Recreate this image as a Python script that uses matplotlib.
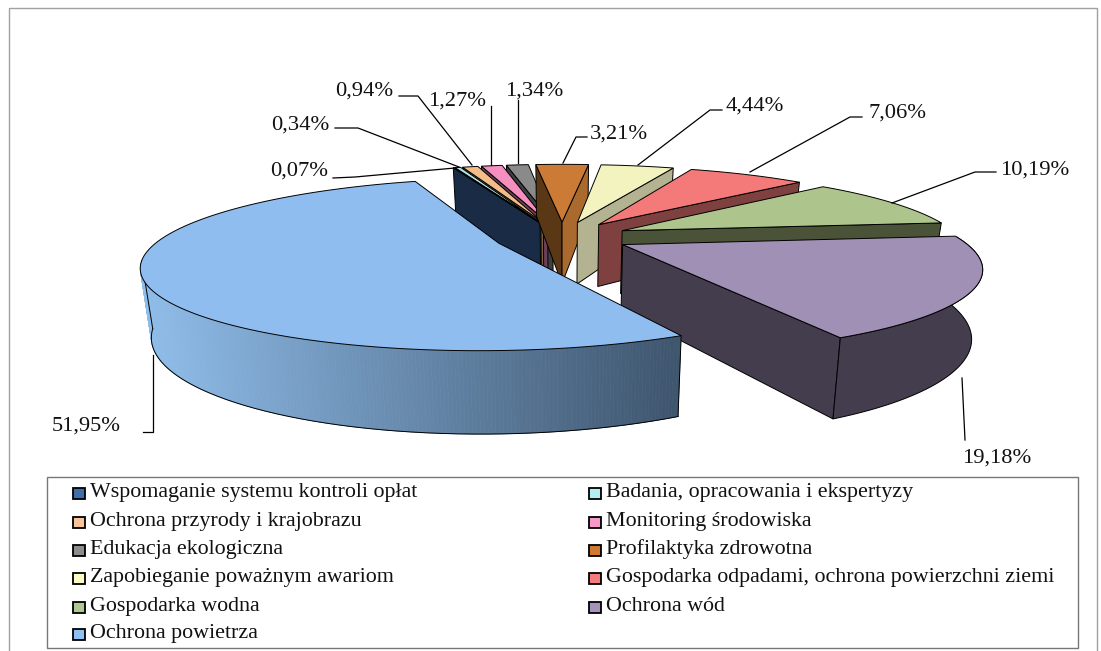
"""
exploded 3d pie of environment spending shares, drawn with a small perspective projection
"""

import numpy as np
import matplotlib
matplotlib.use("Agg")
import matplotlib.pyplot as plt
from matplotlib.patches import Polygon, Rectangle
from matplotlib.colors import to_rgb

categories = [
    "Wspomaganie systemu kontroli opłat",
    "Badania, opracowania i ekspertyzy",
    "Ochrona przyrody i krajobrazu",
    "Monitoring środowiska",
    "Edukacja ekologiczna",
    "Profilaktyka zdrowotna",
    "Zapobieganie poważnym awariom",
    "Gospodarka odpadami, ochrona powierzchni ziemi",
    "Gospodarka wodna",
    "Ochrona wód",
    "Ochrona powietrza",
]
values = [0.07, 0.34, 0.94, 1.27, 1.34, 3.21, 4.44, 7.06, 10.19, 19.18, 51.95]

legend_colors = ["#3f6fa8", "#b4eef0", "#f8c49a", "#f59ac8", "#8c8c8c", "#d07a30",
                 "#fbfbc8", "#f47c7c", "#b0c890", "#a593bb", "#90c0f2"]
top_colors = ["#3f6fa8", "#aee6e8", "#f3bd8a", "#f48fc0", "#8a8a8a", "#cc7b36",
              "#f3f3c0", "#f47a7a", "#adc48c", "#a090b5", "#8fbdf0"]
left_colors = ["#1a2c45", "#5a8082", "#7d6040", "#6e3f58", "#3f3f3f", "#5a3816",
               "#b3b391", "#7f4040", "#4a5238", "#433d4d", "#8fbdea"]
right_colors = ["#1a2c45", "#5a8082", "#7d6040", "#6e3f58", "#3f3f3f", "#ab6a2d",
                "#b3b391", "#7f4040", "#4a5238", "#433d4d", "#3f566f"]

# label text position (left x, centre y) and its leader line, in pixels
label_pos = [(270, 171), (271, 125), (335, 91), (428, 101), (505, 91), (590, 134),
             (725, 106), (868, 113), (1000, 170), (962, 458), (52, 426)]
leaders = [
    [(333, 178), (355, 177), (455, 168)],
    [(335, 128), (358, 128), (459, 167)],
    [(399, 96), (418, 96), (472, 165)],
    [(491, 106), (491, 165)],
    [(518, 100), (518, 163)],
    [(587, 137), (576, 137), (563, 163)],
    [(722, 110), (710, 110), (638, 165)],
    [(862, 117), (850, 117), (750, 172)],
    [(996, 172), (975, 172), (892, 203)],
    [(962, 378), (965, 440)],
    [(143, 432), (153, 432), (153, 355)],
]

# far slices first, small left ones back to front, the big slice last
draw_order = [4, 3, 2, 1, 0, 5, 6, 7, 8, 9, 10]

# projection parameters fitted on the picture
CX, CY = 562, 237
AX, AY = 337, 78
PERSP = 0.24
EXPLODE = 0.2
DEPTH = 64
DEPTH_W = 0.027
START = -20.0


def project(x, y, z=0.0):
    w = (1 + PERSP * y) * (1 + DEPTH_W * z)
    return CX + AX * x / w, CY - AY * y / w + DEPTH * z / (1 + PERSP * y)


fig = plt.figure(figsize=(11.01, 6.51), dpi=100)
ax = fig.add_axes([0, 0, 1, 1])
ax.set_xlim(0, 1101)
ax.set_ylim(651, 0)
ax.axis("off")
plt.rcParams["font.family"] = ["Liberation Serif", "DejaVu Serif"]

# frame
ax.plot([9, 9, 1097, 1097], [651, 8, 8, 651], color="#a0a0a0", lw=1.0)

shares = np.array(values) / np.sum(values) * 360
edges = START + np.concatenate([[0], np.cumsum(shares)])
blue_dark = np.array(to_rgb("#3f566f"))
blue_light = np.array(to_rgb("#8fbdea"))
last = len(values) - 1

for i in draw_order:
    a0, a1 = edges[i], edges[i + 1]
    mid = np.radians((a0 + a1) / 2)
    ox, oy = EXPLODE * np.sin(mid), EXPLODE * np.cos(mid)
    th = np.radians(np.linspace(a0, a1, max(4, int(a1 - a0) * 2)))
    xs = ox + np.sin(th)
    ys = oy + np.cos(th)
    ec = dict(edgecolor="black", linewidth=0.7)

    # radial side faces, only the ones turned to the viewer
    if i != last:
        if np.sin(np.radians(a0)) < 0.05:
            ex, ey = ox + np.sin(th[0]), oy + np.cos(th[0])
            face = [project(ox, oy), project(ex, ey), project(ex, ey, 1), project(ox, oy, 1)]
            ax.add_patch(Polygon(face, facecolor=left_colors[i], **ec))
        if np.sin(np.radians(a1)) > -0.05:
            ex, ey = ox + np.sin(th[-1]), oy + np.cos(th[-1])
            face = [project(ox, oy), project(ex, ey), project(ex, ey, 1), project(ox, oy, 1)]
            ax.add_patch(Polygon(face, facecolor=right_colors[i], **ec))

    # outer rim, near part only
    near = np.cos(th) < (-0.2 if i == last else 0.1)
    if near.sum() > 1:
        nx, ny = xs[near], ys[near]
        if i == last:
            # cut in strips so the large slice can carry its gradient
            for k in range(len(nx) - 1):
                px0, _ = project(nx[k], ny[k])
                t = np.clip((px0 - 140) / (675 - 140), 0, 1)
                col = blue_light * (1 - t) + blue_dark * t
                strip = [project(nx[k], ny[k]), project(nx[k + 1], ny[k + 1]),
                         project(nx[k + 1], ny[k + 1], 1), project(nx[k], ny[k], 1)]
                ax.add_patch(Polygon(strip, facecolor=col, edgecolor=col, linewidth=0.5))
            low = [project(x, y, 1) for x, y in zip(nx, ny)]
            ax.plot(*zip(*low), color="black", lw=0.7, zorder=1)
            ax.plot(*zip(project(nx[0], ny[0]), project(nx[0], ny[0], 1)), color="black", lw=0.7, zorder=1)
            ax.plot(*zip(project(nx[-1], ny[-1]), project(nx[-1], ny[-1], 1)), color="black", lw=0.7, zorder=1)
        else:
            rim = [project(x, y) for x, y in zip(nx, ny)] + \
                  [project(x, y, 1) for x, y in zip(nx[::-1], ny[::-1])]
            ax.add_patch(Polygon(rim, facecolor=right_colors[i], **ec))

    # top face
    top = [project(ox, oy)] + [project(x, y) for x, y in zip(xs, ys)]
    ax.add_patch(Polygon(top, facecolor=top_colors[i], **ec))

# data labels and leaders
for val, pos, line in zip(values, label_pos, leaders):
    ax.plot(*zip(*line), color="black", lw=0.9, zorder=5)
    txt = f"{val:.2f}".replace(".", ",") + "%"
    ax.text(pos[0], pos[1], txt, fontsize=16.2, va="center", ha="left", color="#111111", zorder=6)

# legend box
ax.add_patch(Rectangle((47, 477), 1031, 171, facecolor="white", edgecolor="#777777", linewidth=1, zorder=3))
row_y = [493, 522, 550, 578, 607, 634]
for i, (name, col) in enumerate(zip(categories, legend_colors)):
    y = row_y[i // 2]
    x = 73 if i % 2 == 0 else 589
    ax.add_patch(Rectangle((x, y - 5.5), 12, 11, facecolor=col, edgecolor="black", linewidth=1.3, zorder=4))
    ax.text(x + 17, y - 0.5, name, fontsize=15.8, va="center", ha="left", color="#111111", zorder=4)

fig.savefig("out.png", dpi=100)
